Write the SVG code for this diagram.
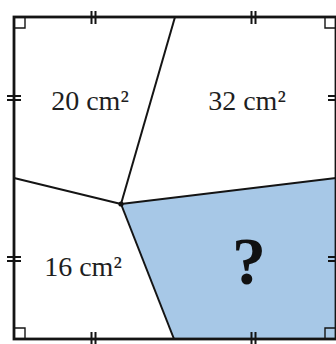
<svg xmlns="http://www.w3.org/2000/svg" width="336" height="344" viewBox="0 0 336 344">
<style>
.edge{fill:none;stroke:#141414;stroke-width:2.8}
.seg{fill:none;stroke:#141414;stroke-width:2}
.tick{stroke:#141414;stroke-width:2}
.ra{fill:none;stroke:#141414;stroke-width:1.4}
.lbl{font-family:"Liberation Serif","Times New Roman",serif;font-size:28px;fill:#1e1e1e;text-anchor:middle}
.q{font-family:"Liberation Serif","Times New Roman",serif;font-size:68px;font-weight:bold;fill:#111;text-anchor:middle}
</style>
<rect width="336" height="344" fill="#ffffff"/>
<g id="shaded">
<polygon points="121,204 336,178 336,339 174,339" fill="#a7c8e7"/>
</g>
<g id="lines">
<line class="seg" x1="121" y1="204" x2="175" y2="17"/>
<line class="seg" x1="121" y1="204" x2="14" y2="178"/>
<line class="seg" x1="121" y1="204" x2="336" y2="178"/>
<line class="seg" x1="121" y1="204" x2="174" y2="339"/>
<circle cx="121" cy="204" r="2.6" fill="#111"/>
</g>
<g id="square">
<rect class="edge" x="14" y="17" width="322" height="322"/>
<path class="ra" d="M14,28 H25 V17 M325,17 V28 H336 M14,328 H25 V339 M325,339 V328 H336"/>
<path class="tick" d="M91.5,11 V24 M95.5,11 V24 M251.5,11 V24 M255.5,11 V24 M91.5,332 V345 M95.5,332 V345 M251.5,332 V345 M255.5,332 V345 M7,96 H21 M7,100 H21 M7,257 H21 M7,261 H21 M328,96 H342 M328,100 H342 M328,257 H342 M328,261 H342"/>
</g>
<g id="labels">
<text class="lbl" x="90" y="110">20 cm²</text>
<text class="lbl" x="247" y="110">32 cm²</text>
<text class="lbl" x="83" y="276">16 cm²</text>
<text class="q" x="249" y="284">?</text>
</g>
</svg>
